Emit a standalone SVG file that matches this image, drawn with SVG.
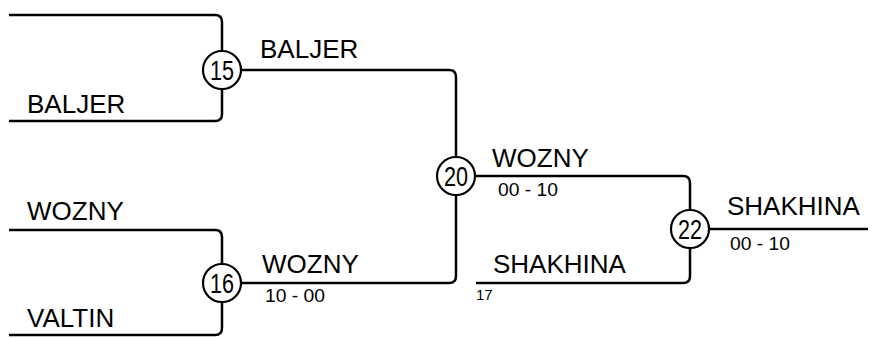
<svg xmlns="http://www.w3.org/2000/svg" width="874" height="338" viewBox="0 0 874 338">
<style>
.ln{fill:none;stroke:#000;stroke-width:2.5;}
.nm{font-family:"Liberation Sans",Arial,sans-serif;font-size:26px;fill:#000;}
.sc{font-family:"Liberation Sans",Arial,sans-serif;font-size:18px;fill:#000;}
.sm{font-family:"Liberation Sans",Arial,sans-serif;font-size:15px;fill:#000;}
.cc{fill:#fff;stroke:#000;stroke-width:2.2;}
.cn{font-family:"Liberation Sans",Arial,sans-serif;font-size:28px;fill:#000;text-anchor:middle;}
</style>
<rect width="874" height="338" fill="#fff"/>
<g id="connectors">
<path class="ln" d="M9,15 H215 Q222,15 222,22 V114 Q222,121 215,121 H9"/>
<path class="ln" d="M9,230 H215 Q222,230 222,237 V328 Q222,335 215,335 H9"/>
<path class="ln" d="M222,70 H449 Q456,70 456,77 V276 Q456,283 449,283 H222"/>
<path class="ln" d="M456,176 H683 Q690,176 690,183 V276 Q690,283 683,283 H476"/>
<path class="ln" d="M690,229 H868"/>
</g>
<g id="n15">
<circle class="cc" cx="222" cy="70" r="19"/>
<text class="cn" x="222" y="80" textLength="24" lengthAdjust="spacingAndGlyphs">15</text>
<text class="nm" x="27" y="113">BALJER</text>
<text class="nm" x="260" y="58">BALJER</text>
</g>
<g id="n16">
<circle class="cc" cx="222" cy="283" r="19"/>
<text class="cn" x="222" y="293" textLength="24" lengthAdjust="spacingAndGlyphs">16</text>
<text class="nm" x="27" y="220">WOZNY</text>
<text class="nm" x="27" y="327">VALTIN</text>
<text class="nm" x="262" y="273">WOZNY</text>
<text class="sc" x="265" y="302" textLength="60" lengthAdjust="spacingAndGlyphs">10 - 00</text>
</g>
<g id="n20">
<circle class="cc" cx="456" cy="176" r="19"/>
<text class="cn" x="456" y="186" textLength="24" lengthAdjust="spacingAndGlyphs">20</text>
<text class="nm" x="492" y="167">WOZNY</text>
<text class="sc" x="498" y="196" textLength="60" lengthAdjust="spacingAndGlyphs">00 - 10</text>
</g>
<g id="n17">
<text class="nm" x="493" y="273">SHAKHINA</text>
<text class="sm" x="476" y="300">17</text>
</g>
<g id="n22">
<circle class="cc" cx="690" cy="229" r="19"/>
<text class="cn" x="690" y="239" textLength="24" lengthAdjust="spacingAndGlyphs">22</text>
<text class="nm" x="727" y="215">SHAKHINA</text>
<text class="sc" x="730" y="250" textLength="60" lengthAdjust="spacingAndGlyphs">00 - 10</text>
</g>
</svg>
